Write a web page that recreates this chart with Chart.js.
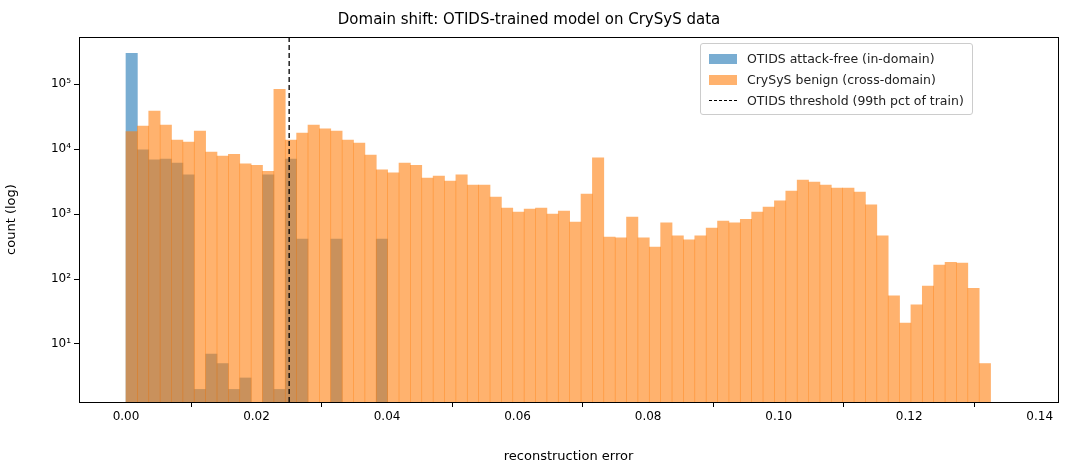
<!DOCTYPE html>
<html>
<head>
<meta charset="utf-8">
<script src="https://cdn.jsdelivr.net/npm/chart.js@4.4.0/dist/chart.umd.min.js"></script>
<style>
  body { margin: 0; background: #fff; font-family: "DejaVu Sans", sans-serif; }
  #wrap { position: relative; width: 1068px; height: 468px; }
  #legend { position: absolute; left: 700px; top: 43px; border: 1px solid #ccc; border-radius: 3px;
            background: rgba(255,255,255,0.85); padding: 4px 8px 3px 8px; font-size: 12.5px; color: #222; }
  .row { display: flex; align-items: center; height: 21px; }
  .sw { width: 28px; height: 10px; margin-right: 10px; }
  .dash { width: 28px; height: 0; border-top: 1.3px dashed #000; margin-right: 10px; }
</style>
</head>
<body>
<div id="wrap">
  <canvas id="c" width="1068" height="468"></canvas>
  <div id="legend">
    <div class="row"><div class="sw" style="background:rgba(31,119,180,0.6)"></div>OTIDS attack-free (in-domain)</div>
    <div class="row"><div class="sw" style="background:rgba(255,127,14,0.6)"></div>CrySyS benign (cross-domain)</div>
    <div class="row"><div class="dash"></div>OTIDS threshold (99th pct of train)</div>
  </div>
</div>
<script>
// 히스토그램 빈 (공통 빈 폭)
const binWidth = 0.001743;
const threshold = 0.025;

// OTIDS attack-free 카운트 (빈 0부터, 0 = 빈칸)
const otidsCounts = [296000, 9700, 6800, 7000, 6100, 4000, 2, 7, 5, 2, 3, 0, 4000, 2, 7000, 410, 0, 0, 410, 0, 0, 0, 410];

// CrySyS benign 카운트
const crysysCounts = [
  18500, 22600, 38400, 23400, 13700, 12800, 18900, 9000, 7800, 8300,
  5900, 5600, 4550, 83000, 13700, 17600, 23400, 20400, 18900, 13700,
  12300, 8100, 4800, 4300, 6100, 5600, 3580, 3850, 3200, 4000,
  2800, 2800, 1830, 1230, 1070, 1190, 1230, 1000, 1110, 750,
  2030, 7300, 440, 430, 900, 430, 310, 730, 460, 400,
  460, 610, 780, 730, 830, 1070, 1280, 1590, 2260, 3340,
  3100, 2800, 2500, 2500, 2180, 1380, 460, 55, 21, 40,
  78, 164, 180, 176, 72, 5
];

const xTicks = [0, 0.02, 0.04, 0.06, 0.08, 0.10, 0.12, 0.14];
const yTicks = [10, 100, 1000, 10000, 100000];
const sup = { 1: '¹', 2: '²', 3: '³', 4: '⁴', 5: '⁵' };

function toPoints(counts) {
  return counts.map((v, i) => ({ x: (i + 0.5) * binWidth, y: v > 0 ? v : null }));
}

const Y_MIN = 1.28, Y_MAX = 530000;

const frame = {
  id: 'frame',
  afterDraw(chart) {
    const { ctx, chartArea: a } = chart;
    ctx.save();
    ctx.strokeStyle = '#000';
    ctx.lineWidth = 1;
    ctx.strokeRect(a.left + 0.5, a.top + 0.5, a.right - a.left, a.bottom - a.top);
    ctx.restore();
  }
};

const font = { family: '"DejaVu Sans", sans-serif', size: 12 };

new Chart(document.getElementById('c'), {
  data: {
    datasets: [
      {
        type: 'line', label: 'OTIDS threshold (99th pct of train)',
        data: [{ x: threshold, y: Y_MIN }, { x: threshold, y: Y_MAX }],
        borderColor: '#000', borderWidth: 1.3, borderDash: [5, 3],
        pointRadius: 0, order: 0
      },
      {
        type: 'bar', label: 'CrySyS benign (cross-domain)', data: toPoints(crysysCounts),
        backgroundColor: 'rgba(255,127,14,0.6)', grouped: false,
        barPercentage: 1, categoryPercentage: 1, order: 1
      },
      {
        type: 'bar', label: 'OTIDS attack-free (in-domain)', data: toPoints(otidsCounts),
        backgroundColor: 'rgba(31,119,180,0.6)', grouped: false,
        barPercentage: 1, categoryPercentage: 1, order: 2
      }
    ]
  },
  options: {
    responsive: false,
    devicePixelRatio: 1,
    animation: false,
    layout: { padding: { left: 0, right: 10, top: 2, bottom: 0 } },
    plugins: {
      legend: { display: false },
      tooltip: { enabled: false },
      title: {
        display: true, text: 'Domain shift: OTIDS-trained model on CrySyS data',
        color: '#000', font: { family: font.family, size: 15, weight: 'normal' },
        padding: { top: 9, bottom: 8 }
      }
    },
    scales: {
      x: {
        type: 'linear', min: -0.0072, max: 0.1428, offset: false,
        afterBuildTicks: s => { s.ticks = xTicks.map(v => ({ value: v })); },
        afterFit: s => { s.height = 66; },
        grid: { drawOnChartArea: false, tickLength: 5, color: '#000' },
        border: { color: '#000' },
        ticks: { color: '#000', font, padding: 3, maxRotation: 0, callback: v => v.toFixed(2) },
        title: { display: true, text: 'reconstruction error', color: '#000', font: { family: font.family, size: 13 }, padding: { top: 4 } }
      },
      y: {
        type: 'logarithmic', min: Y_MIN, max: Y_MAX,
        afterBuildTicks: s => { s.ticks = yTicks.map(v => ({ value: v })); },
        afterFit: s => { s.width = 79; },
        grid: { drawOnChartArea: false, tickLength: 5, color: '#000' },
        border: { color: '#000' },
        ticks: { color: '#000', font, padding: 3, callback: v => '10' + sup[Math.round(Math.log10(v))] },
        title: { display: true, text: 'count (log)', color: '#000', font: { family: font.family, size: 13 }, padding: { bottom: 4 } }
      }
    }
  },
  plugins: [frame]
});
</script>
</body>
</html>
